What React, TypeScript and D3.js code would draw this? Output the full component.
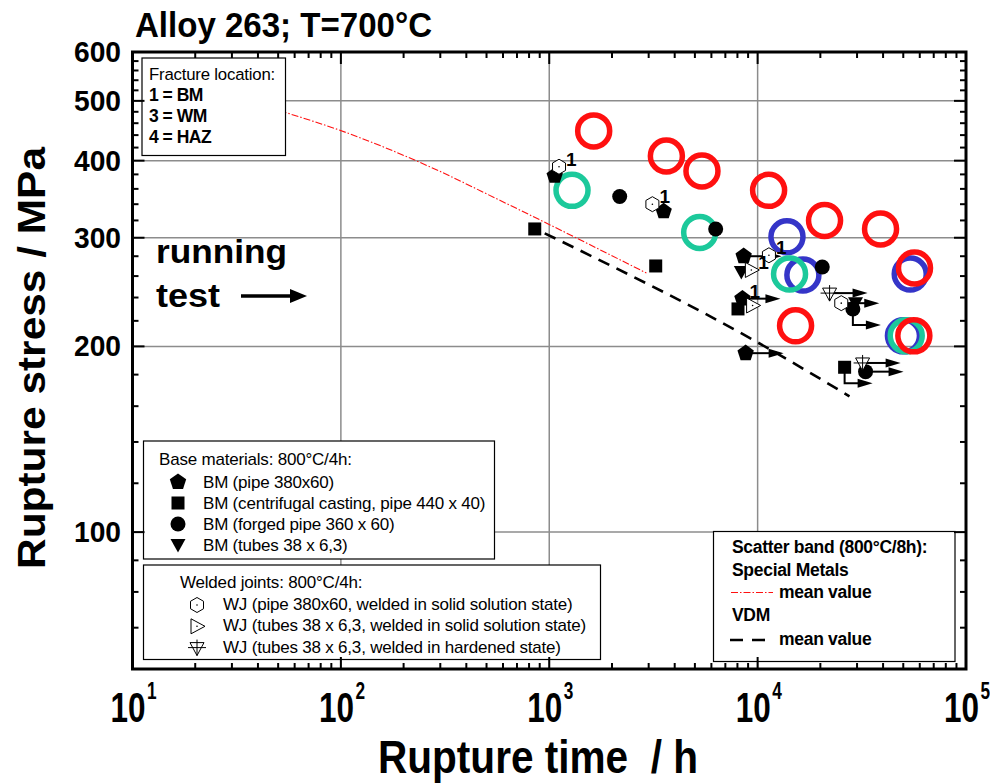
import React from 'react';
import * as d3 from 'd3';

// ---- data ----
// rupture time [h], stress [MPa], runout mark ('' | 'R' arrow | 'L' stem+arrow), fracture label
const pipeBM = [[1062, 378, '', ''], [3541, 331, '', ''], [8570, 280, 'R', ''], [8455, 239, 'R', '1'], [8760, 195, 'R', '']];
const castBM = [[852, 310, '', ''], [3243, 270, '', ''], [8050, 230, '', ''], [26150, 185, 'L', '']];
const forgedBM = [[2178, 350, '', ''], [6290, 310, '', ''], [20430, 269, '', ''], [28650, 230, 'L', ''], [32960, 182, 'R', '']];
const tubesBM = [[8350, 264, '', ''], [29500, 235, '', '']];
const wjPipe = [[1114, 391, '', '1'], [3126, 340, '', '1'], [11330, 281, '', '1'], [25200, 235, 'R', '']];
const wjTubesSolid = [[9330, 266, '', '1'], [9460, 233, '', '']];
const wjTubesHard = [[22150, 244, 'R', ''], [31900, 188, 'R', '']];

const redRings = [[1634, 447], [3648, 407], [5406, 385], [11290, 358], [20950, 320], [38900, 310], [56600, 268], [15210, 216], [56200, 208]];
const blueRings = [[13830, 301], [16490, 261], [54000, 262], [50100, 208]];
const tealRings = [[1286, 358], [5272, 306], [14230, 262], [51650, 208]];

const specialMetalsMean = [[30, 509], [52.9, 480], [98.9, 448], [267, 391], [579, 345], [2925, 263]];
const vdmMean = [[951, 305], [10000, 203], [27600, 166]];

const xMajor = [10, 100, 1000, 10000, 100000];
const xExp = ['1', '2', '3', '4', '5'];
const xGrid = [100, 1000, 10000];
const yMajor = [100, 200, 300, 400, 500, 600];
const yGrid = [100, 200, 300, 400, 500];

const fractureItems = ['1 = BM', '3 = WM', '4 = HAZ'];
const baseItems = ['BM (pipe 380x60)', 'BM (centrifugal casting, pipe 440 x 40)', 'BM (forged pipe 360 x 60)', 'BM (tubes 38 x 6,3)'];
const weldItems = ['WJ (pipe 380x60, welded in solid solution state)', 'WJ (tubes 38 x 6,3, welded in solid solution state)', 'WJ (tubes 38 x 6,3, welded in hardened state)'];

const FONT = "'Liberation Sans', Arial, Helvetica, sans-serif";
const RED = '#ff1010';
const BLUE = '#3535c8';
const TEAL = '#1cc99b';

const x = d3.scaleLog().domain([10, 1e5]).range([132.5, 966]);
const y = d3.scaleLog().domain([60, 600]).range([669, 52]);

const xMinor: number[] = [];
[10, 100, 1000, 10000].forEach((d) => {
  for (let k = 2; k <= 9; k++) xMinor.push(d * k);
});
const yMinor: number[] = [60, 70, 80, 90];
for (let v = 120; v < 600; v += 20) if (v % 100 !== 0) yMinor.push(v);

// ---- symbol shapes ----
const poly = (n: number, r: number, start: number) => {
  const pts = d3.range(n).map((k) => {
    const a = ((start + (360 / n) * k) * Math.PI) / 180;
    return [r * Math.cos(a), r * Math.sin(a)];
  });
  return 'M' + pts.map((p) => p[0].toFixed(2) + ',' + p[1].toFixed(2)).join('L') + 'Z';
};

function Marker({ kind, cx, cy }: { kind: string; cx: number; cy: number }) {
  const t = `translate(${cx},${cy})`;
  switch (kind) {
    case 'pentagon':
      return <path transform={t} d={poly(5, 8.6, -90)} fill="#000" />;
    case 'square':
      return <rect x={cx - 6.5} y={cy - 6.5} width={13} height={13} fill="#000" />;
    case 'circle':
      return <circle cx={cx} cy={cy} r={7.5} fill="#000" />;
    case 'triDown':
      return <path transform={t} d="M-7.5,-6L7.5,-6L0,7.5Z" fill="#000" />;
    case 'hexagon':
      return (
        <g transform={t}>
          <path d={poly(6, 7.5, -90)} fill="#fff" stroke="#000" strokeWidth={1} />
          <circle r={0.8} fill="#000" />
        </g>
      );
    case 'triRight':
      return (
        <g transform={t}>
          <path d="M-6,-7.5L8,0L-6,7.5Z" fill="#fff" stroke="#000" strokeWidth={1} />
          <circle r={0.8} fill="#000" />
        </g>
      );
    case 'hardened':
      return (
        <g transform={t} fill="none" stroke="#000" strokeWidth={1}>
          <path d="M-7,-5L7,-5L0,8Z" fill="#fff" />
          <path d="M-9,0L9,0M0,-8L0,8" />
        </g>
      );
    default:
      return null;
  }
}

function Runout({ cx, cy, mode }: { cx: number; cy: number; mode: string }) {
  if (!mode) return null;
  const stem = mode === 'L' ? 16 : 0;
  const len = mode === 'L' ? 28 : 38;
  const yy = cy + stem;
  const tip = cx + len;
  return (
    <g>
      <path d={`M${cx},${cy}L${cx},${yy}L${tip - 12},${yy}`} fill="none" stroke="#000" strokeWidth={2} />
      <path d={`M${tip},${yy}L${tip - 15},${yy - 4.5}L${tip - 15},${yy + 4.5}Z`} fill="#000" />
    </g>
  );
}

const series = [
  { kind: 'pentagon', data: pipeBM },
  { kind: 'square', data: castBM },
  { kind: 'circle', data: forgedBM },
  { kind: 'triDown', data: tubesBM },
  { kind: 'hexagon', data: wjPipe },
  { kind: 'triRight', data: wjTubesSolid },
  { kind: 'hardened', data: wjTubesHard },
];

export default function App() {
  const line = d3
    .line<number[]>()
    .x((d) => x(d[0]))
    .y((d) => y(d[1]))
    .curve(d3.curveMonotoneX);

  const rings = [
    { color: BLUE, data: blueRings },
    { color: TEAL, data: tealRings },
    { color: RED, data: redRings },
  ];

  return (
    <svg width={990} height={783} style={{ position: 'absolute', left: 0, top: 0, background: '#fff' }} fontFamily={FONT}>
      {/* grid */}
      {xGrid.map((d) => (
        <line key={'gx' + d} x1={x(d)} x2={x(d)} y1={y(600)} y2={y(60)} stroke="#8c8c8c" strokeWidth={1.5} />
      ))}
      {yGrid.map((d) => (
        <line key={'gy' + d} x1={x(10)} x2={x(1e5)} y1={y(d)} y2={y(d)} stroke="#8c8c8c" strokeWidth={1.5} />
      ))}

      {/* mean value curves */}
      <path d={line(specialMetalsMean) || ''} fill="none" stroke={RED} strokeWidth={1.1} strokeDasharray="7,2,1.5,2" />
      <path d={line(vdmMean) || ''} fill="none" stroke="#000" strokeWidth={2.6} strokeDasharray="12,8" />

      {/* rings */}
      {rings.map((s) =>
        s.data.map((d, i) => (
          <circle key={s.color + i} cx={x(d[0])} cy={y(d[1])} r={16} fill="none" stroke={s.color} strokeWidth={5.5} />
        ))
      )}

      {/* runout arrows */}
      {series.map((s) =>
        s.data.map((d, i) => <Runout key={s.kind + 'r' + i} cx={x(d[0] as number)} cy={y(d[1] as number)} mode={d[2] as string} />)
      )}

      {/* markers */}
      {series.map((s) =>
        s.data.map((d, i) => <Marker key={s.kind + i} kind={s.kind} cx={x(d[0] as number)} cy={y(d[1] as number)} />)
      )}

      {/* fracture labels */}
      {series.map((s) =>
        s.data.map((d, i) =>
          d[3] ? (
            <text key={s.kind + 'l' + i} x={x(d[0] as number) + 7} y={y(d[1] as number) - 1} fontSize={19} fontWeight="bold">
              {d[3]}
            </text>
          ) : null
        )
      )}

      {/* running test */}
      <text x={156} y={263} fontSize={34} fontWeight="bold" textLength={131} lengthAdjust="spacingAndGlyphs">running</text>
      <text x={156} y={307} fontSize={34} fontWeight="bold" textLength={64} lengthAdjust="spacingAndGlyphs">test</text>
      <path d="M241,296L294,296" stroke="#000" strokeWidth={3.5} />
      <path d="M307,296L290,289L290,303Z" fill="#000" />

      {/* fracture location box */}
      <rect x={142} y={58} width={143.5} height={97.5} fill="#fff" stroke="#000" strokeWidth={1.2} />
      <text x={149} y={80} fontSize={16.8} letterSpacing={-0.2}>Fracture location:</text>
      {fractureItems.map((t, i) => (
        <text key={t} x={149} y={101 + i * 21} fontSize={17.5} fontWeight="bold" letterSpacing={-0.5}>
          {t}
        </text>
      ))}

      {/* base materials legend */}
      <rect x={143.5} y={441} width={351} height={118} fill="#fff" stroke="#000" strokeWidth={1.2} />
      <text x={159} y={465} fontSize={17} letterSpacing={-0.2}>Base materials: 800°C/4h:</text>
      {baseItems.map((t, i) => (
        <g key={t}>
          <Marker kind={series[i].kind} cx={178} cy={482 + i * 21} />
          <text x={203} y={488 + i * 21} fontSize={17} letterSpacing={-0.2}>{t}</text>
        </g>
      ))}

      {/* welded joints legend */}
      <rect x={143.5} y={565} width={457} height={94.5} fill="#fff" stroke="#000" strokeWidth={1.2} />
      <text x={180} y={588} fontSize={17} letterSpacing={-0.2}>Welded joints: 800°C/4h:</text>
      {weldItems.map((t, i) => (
        <g key={t}>
          <Marker kind={series[4 + i].kind} cx={197} cy={605 + i * 21.3} />
          <text x={223} y={610 + i * 21.3} fontSize={17} letterSpacing={-0.2}>{t}</text>
        </g>
      ))}

      {/* scatter band legend */}
      <rect x={713.5} y={531.5} width={241.5} height={130} fill="#fff" stroke="#000" strokeWidth={1.2} />
      <g fontSize={17.5} fontWeight="bold" letterSpacing={-0.3}>
        <text x={732} y={553}>Scatter band (800°C/8h):</text>
        <text x={732} y={576}>Special Metals</text>
        <text x={779} y={598}>mean value</text>
        <text x={732} y={621}>VDM</text>
        <text x={779} y={645}>mean value</text>
      </g>
      <path d="M731,592.5L773,592.5" stroke={RED} strokeWidth={1.1} strokeDasharray="7,2,1.5,2" />
      <path d="M730,640L770,640" stroke="#000" strokeWidth={2.6} strokeDasharray="13,9" />

      {/* frame */}
      <rect x={x(10)} y={y(600)} width={x(1e5) - x(10)} height={y(60) - y(600)} fill="none" stroke="#000" strokeWidth={3} />

      {/* ticks */}
      {xMajor.map((d) => (
        <g key={'xt' + d}>
          <line x1={x(d)} x2={x(d)} y1={y(60)} y2={y(60) - 12} stroke="#000" strokeWidth={2} />
          <line x1={x(d)} x2={x(d)} y1={y(600)} y2={y(600) + 12} stroke="#000" strokeWidth={2} />
        </g>
      ))}
      {xMinor.map((d) => (
        <g key={'xm' + d}>
          <line x1={x(d)} x2={x(d)} y1={y(60)} y2={y(60) - 6} stroke="#000" strokeWidth={2} />
          <line x1={x(d)} x2={x(d)} y1={y(600)} y2={y(600) + 6} stroke="#000" strokeWidth={2} />
        </g>
      ))}
      {yMajor.map((d) => (
        <g key={'yt' + d}>
          <line x1={x(10)} x2={x(10) + 12} y1={y(d)} y2={y(d)} stroke="#000" strokeWidth={2} />
          <line x1={x(1e5)} x2={x(1e5) - 12} y1={y(d)} y2={y(d)} stroke="#000" strokeWidth={2} />
        </g>
      ))}
      {yMinor.map((d) => (
        <g key={'ym' + d}>
          <line x1={x(10)} x2={x(10) + 6} y1={y(d)} y2={y(d)} stroke="#000" strokeWidth={2} />
          <line x1={x(1e5)} x2={x(1e5) - 6} y1={y(d)} y2={y(d)} stroke="#000" strokeWidth={2} />
        </g>
      ))}

      {/* tick labels */}
      {yMajor.map((d) => (
        <text key={'yl' + d} x={121} y={y(d) + 10} fontSize={29} fontWeight="bold" textAnchor="end" textLength={47} lengthAdjust="spacingAndGlyphs">
          {String(d)}
        </text>
      ))}
      {xMajor.map((d, i) => (
        <text key={'xl' + d} transform={`translate(${x(d) - 22},722) scale(0.75,1)`} fontSize={42} fontWeight="bold">
          10
          <tspan dy={-23} dx={2} fontSize={23}>{xExp[i]}</tspan>
        </text>
      ))}

      {/* titles */}
      <text x={135} y={37} fontSize={35} fontWeight="bold" textLength={297} lengthAdjust="spacingAndGlyphs">Alloy 263; T=700°C</text>
      <text transform="translate(45,358) rotate(-90)" textAnchor="middle" fontSize={38} fontWeight="bold" textLength={422} lengthAdjust="spacingAndGlyphs">
        Rupture stress / MPa
      </text>
      <text x={538} y={773} textAnchor="middle" fontSize={47} fontWeight="bold" textLength={320} lengthAdjust="spacingAndGlyphs">
        {'Rupture time\u00a0 / h'}
      </text>
    </svg>
  );
}
